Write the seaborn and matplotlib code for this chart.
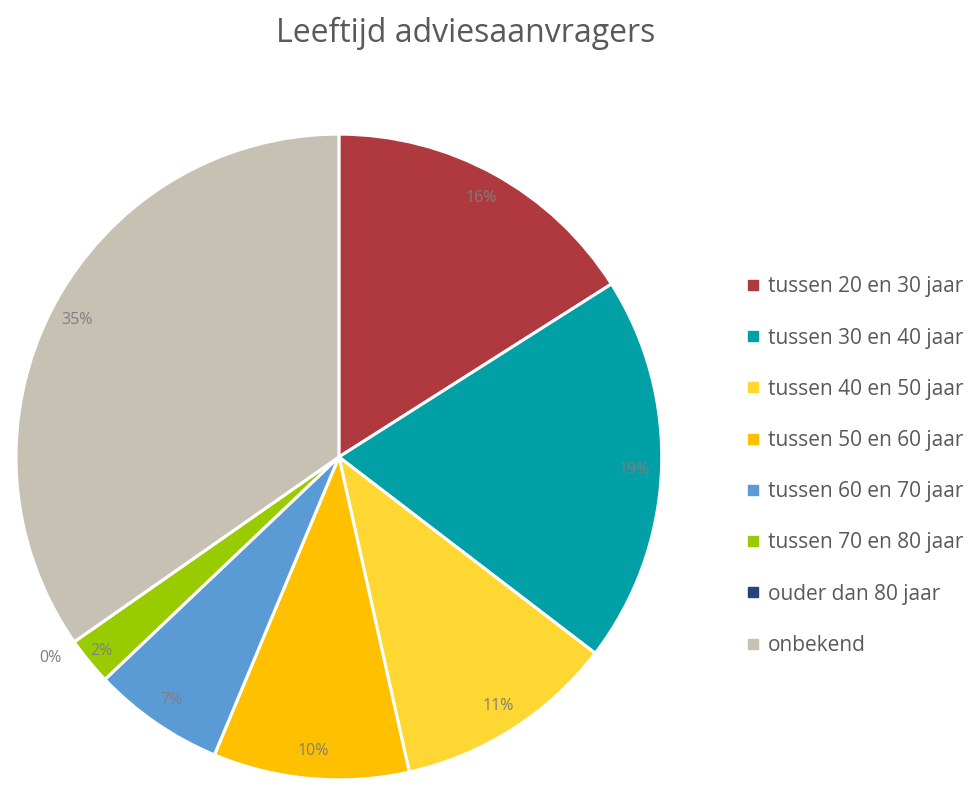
import matplotlib
matplotlib.use("Agg")
import numpy as np
import matplotlib.pyplot as plt
from matplotlib.lines import Line2D
import seaborn as sns

# Data
categories = ["tussen 20 en 30 jaar", "tussen 30 en 40 jaar", "tussen 40 en 50 jaar",
              "tussen 50 en 60 jaar", "tussen 60 en 70 jaar", "tussen 70 en 80 jaar",
              "ouder dan 80 jaar", "onbekend"]
shares = [16.0, 19.4, 11.1, 9.8, 6.6, 2.4, 0.0, 34.7]
colors = ["#B0393F", "#00A0A6", "#FFD733", "#FFC000", "#5B9BD5", "#99CC00", "#254479", "#C7C1B4"]

sns.set_style("white")
plt.rcParams['font.family'] = ['Open Sans', 'DejaVu Sans']

fig = plt.figure(figsize=(9.71, 7.86), dpi=100)
ax = fig.add_axes([0.0165, 0.0076, 0.665, 0.822])

wedges, _ = ax.pie(shares, colors=colors, startangle=90, counterclock=False,
                   radius=1.0, wedgeprops=dict(edgecolor="white", linewidth=2.2))
ax.set_xlim(-1, 1)
ax.set_ylim(-1, 1)
ax.set_aspect("equal")
ax.axis("off")

# percentage labels at wedge mid-angles
for w, v in zip(wedges, shares):
    mid = np.deg2rad((w.theta1 + w.theta2) / 2)
    r = 0.915 if v > 3 else (0.95 if v > 0 else 1.09)
    ax.text(r * np.cos(mid), r * np.sin(mid), f"{v:.0f}%", ha="center", va="center",
            fontsize=11.5, color="#7F7F7F")

fig.text(0.48, 0.958, "Leeftijd adviesaanvragers", ha="center", va="center",
         fontsize=23, color="#595959")

handles = [Line2D([0], [0], marker="s", linestyle="none", markersize=7,
                  markerfacecolor=c, markeredgecolor=c) for c in colors]
fig.legend(handles, categories, loc="center left", bbox_to_anchor=(0.760, 0.407),
           frameon=False, fontsize=15, labelcolor="#595959", handlelength=0.6,
           handletextpad=0.45, labelspacing=1.45, borderaxespad=0)

fig.savefig("out.png", dpi=100)
